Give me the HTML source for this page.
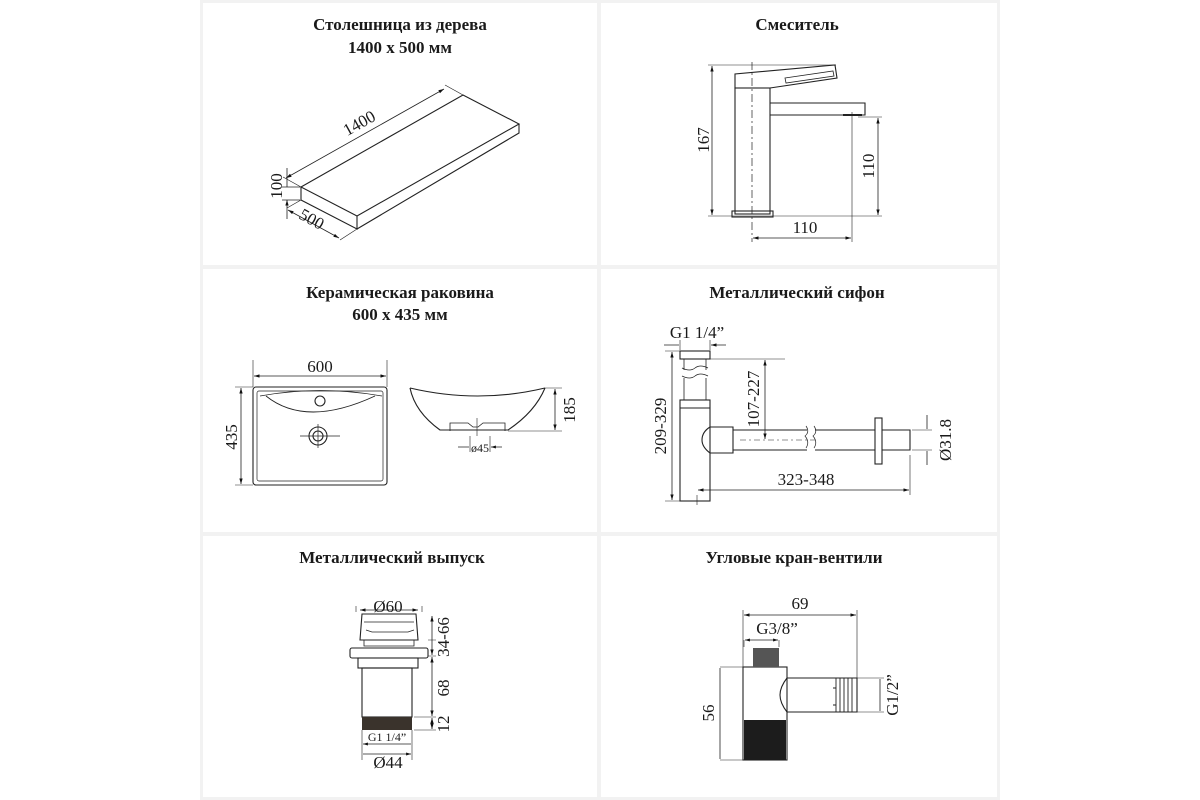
<!DOCTYPE html>
<html><head><meta charset="utf-8"><style>
body{margin:0;background:#fff}
svg{display:block}
text{font-family:"Liberation Serif","DejaVu Serif",serif;fill:#1a1a1a}
.t{font-size:17px;font-weight:bold;text-anchor:middle}
.d{font-size:17px;text-anchor:middle}
.l{fill:none;stroke:#222;stroke-width:1.1}
</style></head><body>
<svg width="1200" height="800" viewBox="0 0 1200 800" xmlns="http://www.w3.org/2000/svg">
<defs><marker id="a" viewBox="0 0 10 10" refX="10" refY="5" markerWidth="7" markerHeight="7" orient="auto-start-reverse"><path d="M0,2L10,5L0,8z" fill="#111"/></marker></defs>
<g fill="#f2f2f2">
<rect x="200" y="0" width="800" height="3"/><rect x="200" y="265" width="800" height="4"/><rect x="200" y="532" width="800" height="4"/><rect x="200" y="797" width="800" height="3"/>
<rect x="597" y="0" width="4" height="800"/><rect x="200" y="0" width="3" height="800"/><rect x="997" y="0" width="3" height="800"/>
</g>
<text class="t" x="400" y="30">Столешница из дерева</text>
<text class="t" x="400" y="53">1400 x 500 мм</text>
<text class="t" x="797" y="30">Смеситель</text>
<text class="t" x="400" y="298">Керамическая раковина</text>
<text class="t" x="400" y="320">600 x 435 мм</text>
<text class="t" x="797" y="298">Металлический сифон</text>
<text class="t" x="392" y="563">Металлический выпуск</text>
<text class="t" x="794" y="563">Угловые кран-вентили</text>

<g class="l">
<path d="M301,187L463,95L519,124L357,216Z"/><path d="M301,187V200L357,229V216"/><path d="M357,229L519,133V124"/>
<path d="M301,187L283,177M463,95L445,85" stroke-width=".7"/>
<path d="M286,178L444,89" marker-start="url(#a)" marker-end="url(#a)" stroke-width=".8"/>
<path d="M301,200L287,208M357,229L340,240M282,187H300M282,200H300" stroke-width=".7"/>
<path d="M288,210L339,238" marker-start="url(#a)" marker-end="url(#a)" stroke-width=".8"/>
<path d="M287,168V187M287,219V200" marker-end="url(#a)" stroke-width=".8"/>
</g>
<text class="d" transform="translate(362,128) rotate(-29)">1400</text>
<text class="d" transform="translate(282,186) rotate(-90)">100</text>
<text class="d" transform="translate(309,224) rotate(29)">500</text>

<g class="l">
<path d="M735,88V74L835,65L837,78L770,88Z"/><path d="M785,78L833,71L834,76L786,83Z" stroke-width=".8"/>
<rect x="735" y="88" width="35" height="126"/><path d="M770,103H865V115H770"/><path d="M843,115H862" stroke-width="2"/>
<rect x="732" y="211" width="41" height="6"/>
<path d="M752,62V242" stroke-dasharray="8,3,2,3" stroke-width=".7"/>
<path d="M708,65H836M708,216H882M852,112V242M858,117H882" stroke-width=".6"/>
<path d="M712,66V215" marker-start="url(#a)" marker-end="url(#a)" stroke-width=".8"/>
<path d="M878,118V215" marker-start="url(#a)" marker-end="url(#a)" stroke-width=".8"/>
<path d="M753,238H851" marker-start="url(#a)" marker-end="url(#a)" stroke-width=".8"/>
</g>
<text class="d" transform="translate(709,140) rotate(-90)">167</text>
<text class="d" transform="translate(874,166) rotate(-90)">110</text>
<text class="d" x="805" y="233">110</text>

<g class="l">
<rect x="253" y="387" width="134" height="98" rx="3"/><rect x="257" y="391" width="126" height="90" rx="2" stroke-width=".7"/>
<path d="M260,396Q320,385 382,396" stroke-width=".8"/><path d="M266,396Q306,428 375,396" stroke-width=".9"/>
<circle cx="320" cy="401" r="5"/><circle cx="318" cy="436" r="9"/><circle cx="318" cy="436" r="5"/>
<path d="M300,436H340M318,424V448" stroke-width=".7"/>
<path d="M253,360V387M387,360V387M235,387H253M235,485H253" stroke-width=".6"/>
<path d="M254,376H386" marker-start="url(#a)" marker-end="url(#a)" stroke-width=".8"/>
<path d="M241,388V484" marker-start="url(#a)" marker-end="url(#a)" stroke-width=".8"/>
<path d="M410,388Q478,404 545,388"/><path d="M410,388Q415,412 440,430H508Q535,412 545,388"/>
<path d="M450,431V423H468L473,427H478L483,423H505V431" stroke-width=".8"/>
<path d="M477,418V436M470,436V452M490,436V452" stroke-width=".6"/>
<path d="M545,388H562M508,431H562" stroke-width=".6"/>
<path d="M555,389V430" marker-start="url(#a)" marker-end="url(#a)" stroke-width=".8"/>
<path d="M458,447H469M502,447H491" marker-end="url(#a)" stroke-width=".7"/>
</g>
<text class="d" x="320" y="372">600</text>
<text class="d" transform="translate(237,437) rotate(-90)">435</text>
<text class="d" transform="translate(575,410) rotate(-90)">185</text>
<text x="480" y="452" style="font-size:12px;text-anchor:middle">ø45</text>

<g class="l">
<rect x="680" y="351" width="30" height="8"/><path d="M684,359V370M706,359V370M684,378V400M706,378V400M682,368Q690,372 695,368T708,368M682,376Q690,380 695,376T708,376" stroke-width=".8"/>
<rect x="680" y="400" width="30" height="101"/><path d="M680,408H710"/>
<path d="M710,427H733V453H710Q702,447 702,440Q702,432 710,427Z"/>
<path d="M733,430H807M733,450H807M815,430H875M815,450H875M882,430H910V450H882" />
<path d="M806,426Q810,432 805,436Q810,442 806,448M814,426Q818,432 813,436Q818,442 814,448" stroke-width=".7"/>
<rect x="875" y="418" width="7" height="46"/>
<path d="M740,440H815" stroke-dasharray="6,3,2,3" stroke-width=".6"/>
<path d="M665,351H680M710,359H785M665,501H680M697,495V505M910,455V495M912,430H932M912,450H932M680,340V350M710,340V350" stroke-width=".6"/>
<path d="M672,352V500" marker-start="url(#a)" marker-end="url(#a)" stroke-width=".8"/>
<path d="M765,360V439" marker-start="url(#a)" marker-end="url(#a)" stroke-width=".8"/>
<path d="M698,490H909" marker-start="url(#a)" marker-end="url(#a)" stroke-width=".8"/>
<path d="M927,415V429M927,465V451M664,345H679M726,345H711" marker-end="url(#a)" stroke-width=".8"/>
</g>
<text class="d" x="697" y="338">G1 1/4”</text>
<text class="d" transform="translate(666,426) rotate(-90)">209-329</text>
<text class="d" transform="translate(759,399) rotate(-90)">107-227</text>
<text class="d" x="806" y="485">323-348</text>
<text class="d" transform="translate(951,440) rotate(-90)">Ø31.8</text>

<g class="l">
<path d="M360,640L362,614H416L418,640Z"/><path d="M364,622H414M366,630L372,632H408L414,630" stroke-width=".7"/>
<path d="M364,640V646H414V640" stroke-width=".8"/>
<rect x="350" y="648" width="78" height="10" rx="2"/>
<rect x="358" y="658" width="60" height="10"/>
<rect x="362" y="668" width="50" height="49"/>
<path d="M356,612V606M422,612V606M428,640H436M428,656H436M414,717H436M414,730H436" stroke-width=".6"/>
<path d="M360,610H418" marker-start="url(#a)" marker-end="url(#a)" stroke-width=".8"/>
<path d="M432,616V655" marker-start="url(#a)" marker-end="url(#a)" stroke-width=".8"/>
<path d="M432,657V716" marker-start="url(#a)" marker-end="url(#a)" stroke-width=".8"/>
<path d="M432,718V729" marker-start="url(#a)" marker-end="url(#a)" stroke-width=".8"/>
<path d="M362,730V760M412,730V760" stroke-width=".6"/>
<path d="M363,744H411M363,754H411" marker-start="url(#a)" marker-end="url(#a)" stroke-width=".7"/>
</g>
<rect x="362" y="717" width="50" height="13" fill="#3a332c"/>
<text class="d" x="388" y="612">Ø60</text>
<text x="387" y="741" style="font-size:12px;text-anchor:middle">G1 1/4”</text>
<text class="d" x="388" y="768">Ø44</text>
<text class="d" transform="translate(449,637) rotate(-90)">34-66</text>
<text class="d" transform="translate(449,688) rotate(-90)">68</text>
<text class="d" transform="translate(449,724) rotate(-90)">12</text>

<g class="l">
<rect x="743" y="667" width="44" height="93"/>
<path d="M787,678H857V712H787Q780,703 780,695Q780,687 787,678Z"/>
<path d="M743,610V667M857,610V678M744,640V647M779,640V647M720,667H743M720,760H743M857,678H884M857,712H884" stroke-width=".6"/>
<path d="M744,615H856" marker-start="url(#a)" marker-end="url(#a)" stroke-width=".8"/>
<path d="M745,640H778" marker-start="url(#a)" marker-end="url(#a)" stroke-width=".7"/>
<path d="M720,668V759" stroke-width=".8"/>
<path d="M880,679V711" stroke-width=".8"/>
<path d="M836,678V712M840,678V712M844,678V712M848,678V712M852,678V712M833,688H836V705H833" stroke-width=".9"/>
</g>
<rect x="753" y="648" width="26" height="19" fill="#555"/>
<rect x="744" y="720" width="42" height="40" fill="#1c1c1c"/>
<text class="d" x="800" y="609">69</text>
<text class="d" x="777" y="634">G3/8”</text>
<text class="d" transform="translate(714,713) rotate(-90)">56</text>
<text class="d" transform="translate(898,695) rotate(-90)">G1/2”</text>
</svg>
</body></html>
